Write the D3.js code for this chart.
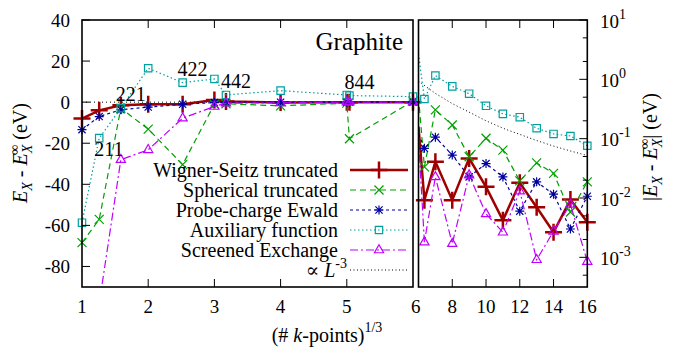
<!DOCTYPE html>
<html lang="en">
<head>
    <meta charset="UTF-8">
    <title>Graphite exchange energy convergence</title>
    <script src="https://cdn.jsdelivr.net/npm/d3@7"></script>
    <style>
        body { margin: 0; background: #fff; }
        svg text { font-family: "Liberation Serif", "Times New Roman", Times, "DejaVu Serif", "Noto Serif", serif; fill: #000; }
        .frame { fill: none; stroke: #000; stroke-width: 1.6px; }
        .tick { stroke: #000; stroke-width: 1px; }
    </style>
</head>
<body>

<svg width="676" height="347"></svg>

<script>

    // (# k-points)^(1/3) on the linear panel
    var kLeft   = [1, 1.26, 1.587, 2, 2.52, 3, 3.175, 4, 5, 5.04, 6];
    var wsLeft  = [-8, -4, -1.5, -1, -1, 1, 0.3, -0.2, 0, 0, 0];
    var sphLeft = [-68.4, -57.1, -3, -13.1, -30.4, -1, -0.8, -1.8, -0.5, -17.8, 0.5];
    var ewLeft  = [-13.4, -7, -3.7, -2.4, -1, -0.2, 0, 0, 0, 0, 0];
    var auxLeft = [-58.7, -17.5, -2.9, 16.5, 9.5, 11.3, 3.5, 5.6, 3.5, 3.2, 2.7];
    var sxLeft  = [-150, -98, -28, -23.2, -7.8, -2.1, -0.5, -0.3, 0, 0, 0];

    // |E_X - E_X^inf| on the log panel
    var kRight   = [6, 6.35, 7, 8, 9, 10, 11, 12, 13, 14, 15, 16];
    var wsRight  = [0.16, 0.0092, 0.041, 0.0092, 0.0465, 0.0154, 0.0042, 0.018, 0.007, 0.00265, 0.0094, 0.0039];
    var sphRight = [0.5, 0.0335, 0.306, 0.17, 0.0495, 0.1016, 0.064, 0.0194, 0.039, 0.026, 0.0058, 0.0187];
    var ewRight  = [0.12, 0.0687, 0.106, 0.053, 0.0227, 0.038, 0.0227, 0.006, 0.0187, 0.0116, 0.003, 0.0107];
    var auxRight = [2.7, 0.466, 1.16, 0.76, 0.573, 0.358, 0.262, 0.23, 0.15, 0.12, 0.111, 0.076];
    var sxRight  = [0.1, 0.0018, 0.0227, 0.0017, 0.0243, 0.0054, 0.00265, 0.0131, 0.00091, 0.00275, 0.0078, 0.00085];

    // the "proportional to L^-3" guide
    var kGuide = [6, 7, 8, 9, 10, 11, 12, 13, 14, 15, 16];
    var guide  = [0.93, 0.58, 0.39, 0.28, 0.2, 0.15, 0.118, 0.093, 0.075, 0.062, 0.052];

    // non-cubic k-grids marked in the left panel (index into kLeft)
    var gridNames = ["211", "221", "422", "442", "844"];
    var gridIndex = [1, 2, 4, 6, 9];

    var leftTicksY  = [-80, -60, -40, -20, 0, 20, 40];
    var leftTicksX  = [1, 2, 3, 4, 5];
    var rightTicksX = [8, 10, 12, 14, 16];
    var rightExps   = [1, 0, -1, -2, -3];

    var series = [
        { name: "Wigner-Seitz truncated", left: wsLeft,  right: wsRight,  color: "#a00000", width: 2.5, dash: null,        sym: "plus",     size: 8.5 },
        { name: "Spherical truncated",    left: sphLeft, right: sphRight, color: "#00a000", width: 1.2, dash: "6,4",       sym: "cross",    size: 4.5 },
        { name: "Probe-charge Ewald",     left: ewLeft,  right: ewRight,  color: "#0000a0", width: 1.2, dash: "3,3",       sym: "star",     size: 4.5 },
        { name: "Auxiliary function",     left: auxLeft, right: auxRight, color: "#00a0a0", width: 1.2, dash: "1.5,2.5",   sym: "square",   size: 3.7 },
        { name: "Screened Exchange",      left: sxLeft,  right: sxRight,  color: "#c000ff", width: 1.2, dash: "8,3,2,3",   sym: "triangle", size: 4.6 }
    ];

    var svg = d3.select("svg");
    var plotTop = 20, plotBottom = 287;

    var xL = d3.scaleLinear().domain([1, 6]).range([82, 413]);
    var yL = d3.scaleLinear().domain([-90, 40]).range([plotBottom, plotTop]);
    var xR = d3.scaleLinear().domain([6, 16]).range([418.5, 587.3]);
    var yR = d3.scaleLog().domain([Math.pow(10, -3.5), 10]).range([plotBottom, plotTop]);

    function symbolPath(sym, s) {
        if (sym === "plus") return "M" + (-s) + ",0H" + s + "M0," + (-s) + "V" + s;
        if (sym === "cross") return "M" + (-s) + "," + (-s) + "L" + s + "," + s + "M" + (-s) + "," + s + "L" + s + "," + (-s);
        if (sym === "star") return symbolPath("plus", s) + symbolPath("cross", s * 0.8);
        if (sym === "square") return "M" + (-s) + "," + (-s) + "H" + s + "V" + s + "H" + (-s) + "Z";
        return "M0," + (-s * 1.15) + "L" + s + "," + (s * 0.6) + "L" + (-s) + "," + (s * 0.6) + "Z";
    }

    var defs = svg.append("defs");
    defs.append("clipPath").attr("id", "clipL").append("rect")
        .attr("x", 82).attr("y", plotTop).attr("width", 331).attr("height", plotBottom - plotTop);
    defs.append("clipPath").attr("id", "clipR").append("rect")
        .attr("x", 418.5).attr("y", plotTop).attr("width", 168.8).attr("height", plotBottom - plotTop);

    // zero line on the linear panel
    svg.append("line")
        .attr("x1", xL(1)).attr("x2", xL(6))
        .attr("y1", yL(0)).attr("y2", yL(0))
        .attr("stroke", "#000").attr("stroke-width", 1)
        .attr("stroke-dasharray", "1,3");

    // guide line
    svg.append("path")
        .attr("clip-path", "url(#clipR)")
        .attr("d", d3.line().x(function (d, i) { return xR(kGuide[i]); }).y(function (d) { return yR(d); })(guide))
        .attr("fill", "none").attr("stroke", "#000").attr("stroke-width", 1)
        .attr("stroke-dasharray", "1,2.5");

    function drawSeries(s, xs, ys, x, y, clipId, markerTest) {
        var line = d3.line()
            .x(function (d, i) { return x(xs[i]); })
            .y(function (d) { return y(d); });

        svg.append("path")
            .attr("clip-path", "url(#" + clipId + ")")
            .attr("d", line(ys))
            .attr("fill", "none")
            .attr("stroke", s.color)
            .attr("stroke-width", s.width)
            .attr("stroke-dasharray", s.dash);

        var dom = y.domain();
        svg.append("g")
            .selectAll("path")
            .data(ys.map(function (v, i) { return { k: xs[i], v: v }; }).filter(function (d) {
                return markerTest(d.k) && d.v >= dom[0] && d.v <= dom[1];
            }))
            .enter().append("path")
            .attr("transform", function (d) { return "translate(" + x(d.k) + "," + y(d.v) + ")"; })
            .attr("d", symbolPath(s.sym, s.size))
            .attr("fill", "none")
            .attr("stroke", s.color)
            .attr("stroke-width", s.sym === "plus" ? 2.5 : 1.2);
    }

    series.forEach(function (s) {
        drawSeries(s, kLeft, s.left, xL, yL, "clipL", function () { return true; });
        drawSeries(s, kRight, s.right, xR, yR, "clipR", function (k) { return k > 6; });
    });

    // grid labels above the auxiliary-function squares
    gridNames.forEach(function (name, j) {
        var i = gridIndex[j];
        var below = name === "211";
        svg.append("text")
            .attr("x", xL(kLeft[i]) - 5)
            .attr("y", yL(auxLeft[i]) + (below ? 18 : -7))
            .attr("font-size", 20)
            .text(name);
    });

    svg.append("text")
        .attr("x", 403).attr("y", 50)
        .attr("text-anchor", "end")
        .attr("font-size", 25)
        .text("Graphite");

    // frames
    svg.append("rect").attr("class", "frame")
        .attr("x", 82).attr("y", plotTop).attr("width", 331).attr("height", plotBottom - plotTop);
    svg.append("rect").attr("class", "frame")
        .attr("x", 418.5).attr("y", plotTop).attr("width", 168.8).attr("height", plotBottom - plotTop);

    // left panel ticks
    var tickG = svg.append("g");
    leftTicksX.slice(1).forEach(function (k) {
        tickG.append("line").attr("class", "tick").attr("x1", xL(k)).attr("x2", xL(k)).attr("y1", plotBottom).attr("y2", plotBottom - 8);
        tickG.append("line").attr("class", "tick").attr("x1", xL(k)).attr("x2", xL(k)).attr("y1", plotTop).attr("y2", plotTop + 8);
    });
    leftTicksX.forEach(function (k) {
        svg.append("text").attr("x", xL(k)).attr("y", 313).attr("text-anchor", "middle").attr("font-size", 19).text(k);
    });
    svg.append("text").attr("x", (xL(6) + xR(6)) / 2).attr("y", 313).attr("text-anchor", "middle").attr("font-size", 19).text(6);

    leftTicksY.forEach(function (v) {
        tickG.append("line").attr("class", "tick").attr("x1", 82).attr("x2", 90).attr("y1", yL(v)).attr("y2", yL(v));
        svg.append("text").attr("x", 70).attr("y", yL(v) + 6.5).attr("text-anchor", "end").attr("font-size", 19).text(v);
    });

    // right panel ticks
    rightTicksX.forEach(function (k) {
        if (k < 16) {
            tickG.append("line").attr("class", "tick").attr("x1", xR(k)).attr("x2", xR(k)).attr("y1", plotBottom).attr("y2", plotBottom - 8);
            tickG.append("line").attr("class", "tick").attr("x1", xR(k)).attr("x2", xR(k)).attr("y1", plotTop).attr("y2", plotTop + 8);
        }
        svg.append("text").attr("x", xR(k)).attr("y", 313).attr("text-anchor", "middle").attr("font-size", 19).text(k);
    });

    rightExps.forEach(function (e) {
        var base = Math.pow(10, e);
        tickG.append("line").attr("class", "tick").attr("x1", 587.3).attr("x2", 579.3).attr("y1", yR(base)).attr("y2", yR(base));
        [2, 5].forEach(function (m) {
            var v = base * m / 10;
            if (v >= yR.domain()[0]) {
                tickG.append("line").attr("class", "tick").attr("x1", 587.3).attr("x2", 582.8).attr("y1", yR(v)).attr("y2", yR(v));
            }
        });
        var t = svg.append("text").attr("x", 600).attr("y", yR(base) + 7.5).attr("font-size", 19);
        t.append("tspan").text("10");
        t.append("tspan").attr("font-size", 14).attr("dy", -9).text(e);
    });

    // axis titles
    var yl = svg.append("text")
        .attr("transform", "translate(27,153) rotate(-90)")
        .attr("text-anchor", "middle")
        .attr("font-size", 20);
    yl.append("tspan").attr("font-style", "italic").text("E");
    yl.append("tspan").attr("font-size", 14).attr("font-style", "italic").attr("dy", 5).text("X");
    yl.append("tspan").attr("dy", -5).text(" - ");
    yl.append("tspan").attr("font-style", "italic").text("E");
    yl.append("tspan").attr("font-size", 14).attr("font-style", "italic").attr("dy", 5).text("X");
    yl.append("tspan").attr("font-size", 14).attr("dx", -10).attr("dy", -13).text("\u221e");
    yl.append("tspan").attr("dy", 8).text(" (eV)");

    var yr = svg.append("text")
        .attr("transform", "translate(657,147) rotate(-90)")
        .attr("text-anchor", "middle")
        .attr("font-size", 20);
    yr.append("tspan").text("|");
    yr.append("tspan").attr("font-style", "italic").text("E");
    yr.append("tspan").attr("font-size", 14).attr("font-style", "italic").attr("dy", 5).text("X");
    yr.append("tspan").attr("dy", -5).text(" - ");
    yr.append("tspan").attr("font-style", "italic").text("E");
    yr.append("tspan").attr("font-size", 14).attr("font-style", "italic").attr("dy", 5).text("X");
    yr.append("tspan").attr("font-size", 14).attr("dx", -10).attr("dy", -13).text("\u221e");
    yr.append("tspan").attr("dy", 8).text("| (eV)");

    var xl = svg.append("text")
        .attr("x", 327).attr("y", 342)
        .attr("text-anchor", "middle")
        .attr("font-size", 20);
    xl.append("tspan").text("(# ");
    xl.append("tspan").attr("font-style", "italic").text("k");
    xl.append("tspan").text("-points)");
    xl.append("tspan").attr("font-size", 14).attr("dy", -10).text("1/3");

    // legend
    var legend = svg.append("g");
    series.forEach(function (s, i) {
        var cy = 170 + i * 20;
        legend.append("text").attr("x", 338).attr("y", cy + 6.5).attr("text-anchor", "end").attr("font-size", 20).text(s.name);
        legend.append("line").attr("x1", 350).attr("x2", 408).attr("y1", cy).attr("y2", cy)
            .attr("stroke", s.color).attr("stroke-width", s.width).attr("stroke-dasharray", s.dash);
        legend.append("path").attr("transform", "translate(379," + cy + ")")
            .attr("d", symbolPath(s.sym, s.size))
            .attr("fill", "none").attr("stroke", s.color)
            .attr("stroke-width", s.sym === "plus" ? 2.5 : 1.2);
    });
    var gy = 170 + series.length * 20;
    var gt = legend.append("text").attr("x", 347).attr("y", gy + 6.5).attr("text-anchor", "end").attr("font-size", 20);
    gt.append("tspan").text("\u221d ");
    gt.append("tspan").attr("font-style", "italic").text("L");
    gt.append("tspan").attr("font-size", 14).attr("dy", -9).text("-3");
    legend.append("line").attr("x1", 350).attr("x2", 408).attr("y1", gy).attr("y2", gy)
        .attr("stroke", "#000").attr("stroke-width", 1).attr("stroke-dasharray", "1,2.5");

</script>

</body>
</html>
